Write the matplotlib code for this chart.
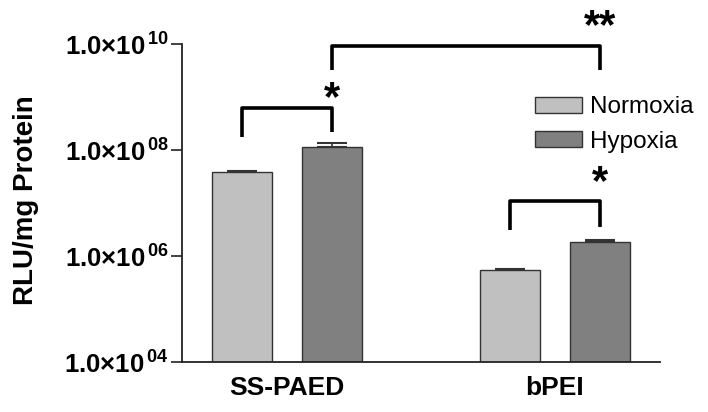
import numpy as np
import matplotlib
matplotlib.use("Agg")
import matplotlib.pyplot as plt

plt.rcParams['font.family'] = ['Liberation Sans', 'DejaVu Sans']
plt.rcParams['mathtext.fontset'] = 'custom'
plt.rcParams['mathtext.rm'] = 'Liberation Sans'
plt.rcParams['mathtext.bf'] = 'Liberation Sans:bold'

# data
groups = ['SS-PAED', 'bPEI']
normoxia = [3.85e7, 5.4e5]
normoxia_err = [1.5e6, 3.0e4]
hypoxia = [1.14e8, 1.84e6]
hypoxia_err = [2.0e7, 1.5e5]
yticks = [1e4, 1e6, 1e8, 1e10]

fig = plt.figure(figsize=(7.08, 4.12), dpi=100)
ax = fig.add_axes([182/708, 50/412, 478/708, 318/412])

x = np.arange(len(groups))
w = 0.224
off = 0.168
edge = '#333333'
ax.bar(x - off, normoxia, w, color='#c0c0c0', edgecolor=edge, linewidth=1.0,
       label='Normoxia', zorder=2)
ax.bar(x + off, hypoxia, w, color='#808080', edgecolor=edge, linewidth=1.0,
       label='Hypoxia', zorder=2)
ax.errorbar(x - off, normoxia, yerr=[np.zeros(2), normoxia_err], fmt='none',
            ecolor=edge, elinewidth=1.2, capsize=10.5, capthick=1.5, zorder=1)
ax.errorbar(x + off, hypoxia, yerr=[np.zeros(2), hypoxia_err], fmt='none',
            ecolor=edge, elinewidth=1.2, capsize=10.5, capthick=1.5, zorder=1)

ax.set_yscale('log')
ax.set_ylim(1e4, 1e10)
ax.set_xlim(-0.392, 1.392)
ax.set_yticks(yticks)
ax.set_yticklabels([r'$\mathbf{1.0×10^{\,%02d}}$' % int(np.log10(t)) for t in yticks])
ax.yaxis.set_minor_locator(matplotlib.ticker.NullLocator())
ax.tick_params(axis='y', length=8, width=1.2, pad=1.5, labelsize=18.5, color='#222222')
ax.set_xticks(x)
ax.set_xticklabels(groups, fontsize=19, fontweight='bold')
ax.tick_params(axis='x', length=0, pad=10)
for s in ['top', 'right']:
    ax.spines[s].set_visible(False)
for s in ['left', 'bottom']:
    ax.spines[s].set_linewidth(1.3)
    ax.spines[s].set_color('#222222')

ax.set_ylabel('RLU/mg Protein', fontsize=20, fontweight='bold')
ax.yaxis.set_label_coords(-0.30, 0.51)

# significance brackets
def bracket(x1, x2, ytop, y1, y2, txt, ytxt):
    ax.plot([x1, x1, x2, x2], [y1, ytop, ytop, y2], color='black', lw=2.6,
            clip_on=False, solid_capstyle='butt')
    ax.text(x2, ytxt, txt, ha='center', va='center', fontsize=30,
            fontweight='bold', clip_on=False)

bracket(x[0] - off, x[0] + off, 6.3e8, 1.74e8, 2.2e8, '*', 9.1e8)
bracket(x[1] - off, x[1] + off, 1.07e7, 3.1e6, 3.6e6, '*', 2.4e7)
bracket(x[0] + off, x[1] + off, 9.1e9, 3.2e9, 3.2e9, '**', 2.1e10)

ax.legend(loc='center left', bbox_to_anchor=(535/708, 1 - 124.5/412),
          bbox_transform=fig.transFigure, frameon=False, fontsize=17.5,
          handlelength=1.92, handleheight=0.61, handletextpad=0.33,
          labelspacing=0.5, borderpad=0, borderaxespad=0)

fig.savefig('out.png', dpi=100)
